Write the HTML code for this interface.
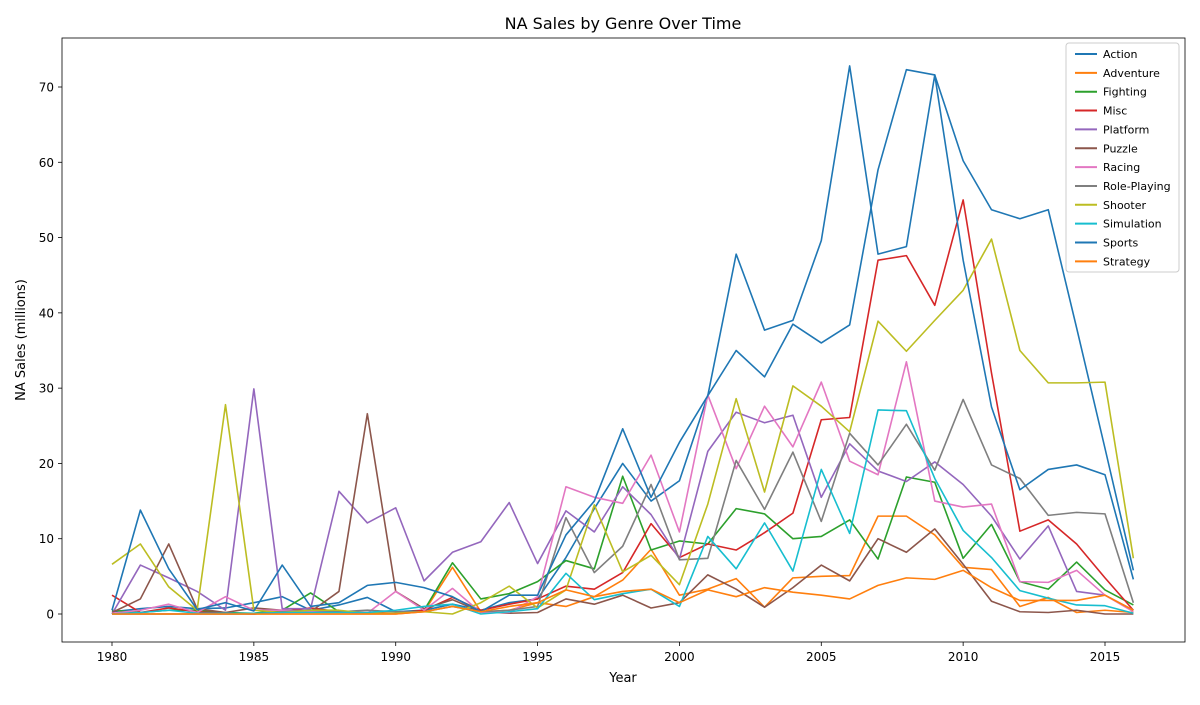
<!DOCTYPE html>
<html><head><meta charset="utf-8"><style>
body{margin:0;background:#fff;font-family:"Liberation Sans","DejaVu Sans",sans-serif}
svg text{font-family:"DejaVu Sans","Liberation Sans",sans-serif;fill:#000}
</style></head><body>
<svg id="chart" width="1200" height="700" xmlns="http://www.w3.org/2000/svg">
<rect width="1200" height="700" fill="#fff"/>
<text x="623" y="29" font-size="16" text-anchor="middle">NA Sales by Genre Over Time</text>
<g id="plot"></g>
<rect x="62" y="38" width="1123" height="604" fill="none" stroke="#000" stroke-width="0.8"/>
<g id="ticks"></g>
<text x="623" y="682" font-size="13" text-anchor="middle">Year</text>
<text transform="translate(25,340) rotate(-90)" font-size="13" text-anchor="middle">NA Sales (millions)</text>
<g id="legend"></g>
</svg>
<script>
const years = Array.from({length:37},(_,i)=>1980+i);
const genres = ["Action","Adventure","Fighting","Misc","Platform","Puzzle","Racing","Role-Playing","Shooter","Simulation","Sports","Strategy"];
const colors = ["#1f77b4","#ff7f0e","#2ca02c","#d62728","#9467bd","#8c564b","#e377c2","#7f7f7f","#bcbd22","#17becf","#1f77b4","#ff7f0e"];
const action = [0.3,0.7,1,0.7,0.8,1.5,2.3,0.5,1.2,2.2,0.3,0.5,1.3,0.5,1.5,2,7.5,14,20,15,17.7,29,35,31.5,38.5,36,38.4,59,72.3,71.6,60.2,53.7,52.5,53.7,38,22,5.8];
const adventure = [0,0,0,0,0,0,0,0,0,0,0,0.3,6.2,0.3,0.5,1.5,1,2.3,4.5,8.6,2.5,3.3,4.7,0.9,4.8,5,5.1,13,13,10.5,6.2,5.9,1,2.2,0.2,0.5,0.2];
const fighting = [0.5,0.2,0.5,0.5,0.2,0.1,0.5,2.8,0.3,0.1,0.1,0.5,6.8,2,2.7,4.3,7.1,6,18.3,8.5,9.7,9.3,14,13.3,10,10.3,12.5,7.3,18.2,17.5,7.4,11.9,4.3,3.3,6.9,3.2,1.2];
const misc = [2.5,0.2,0.8,0.3,0.1,0,0.3,0.8,0.3,0.2,0.1,0.5,2.2,0.5,1.3,2,3.7,3.3,5.5,12,7.5,9.3,8.5,10.8,13.4,25.8,26.1,47,47.6,41,55,32,11,12.5,9.3,4.8,0.5];
const platform = [0,6.5,4.8,3,0.5,29.9,0.7,0.7,16.3,12.1,14.1,4.4,8.2,9.6,14.8,6.7,13.7,10.9,16.9,13.2,7.3,21.6,26.8,25.4,26.4,15.5,22.6,19,17.6,20.2,17.2,13,7.3,11.7,3,2.5,0.5];
const puzzle = [0.2,2,9.3,0.7,0.2,0.8,0.5,0.3,3,26.6,3,0.7,1.9,0.3,0.1,0.2,2,1.3,2.5,0.8,1.5,5.2,3.3,0.9,3.5,6.5,4.4,10,8.2,11.3,6.6,1.7,0.3,0.2,0.5,0,0];
const racing = [0.1,0.5,1.3,0.2,2.3,0.5,0.5,0.3,0.3,0.1,3,0.5,3.4,0.2,0.2,2.3,16.9,15.5,14.7,21.1,10.9,29.1,19.3,27.6,22.2,30.8,20.3,18.5,33.5,15,14.2,14.6,4.3,4.2,5.8,2.5,0.3];
const rpg = [0,0,0,0,0,0,0.3,0.5,0.3,0.5,0.3,0.3,1,0.3,0.5,1,12.8,5.5,9,17.2,7.2,7.4,20.4,13.9,21.5,12.3,24,19.8,25.2,19.1,28.5,19.8,18,13.1,13.5,13.3,1.5];
const shooter = [6.6,9.3,3.6,0.5,27.8,0.5,0.2,0.5,0.5,0.1,0.1,0.3,0,1.5,3.7,0.8,3.2,14.5,5.6,7.8,3.9,14.6,28.6,16.2,30.3,27.6,24.2,38.9,34.9,39,43,49.8,35,30.7,30.7,30.8,7.4];
const simulation = [0,0.2,0.5,0.1,0.1,0.1,0.2,0.2,0.2,0.2,0.5,1,1.3,0,0.3,0.7,5.4,1.9,2.7,3.3,1,10.3,6,12.1,5.7,19.2,10.7,27.1,27,18,11.1,7.5,3.1,2.1,1.2,1.1,0.1];
const sports = [0.5,13.8,6,0.6,1.5,0.4,6.5,1,1.5,3.8,4.2,3.5,2.3,0.3,2.5,2.5,10.5,15,24.6,15.5,22.8,29,47.8,37.7,39,49.6,72.8,47.8,48.8,71.6,47,27.5,16.5,19.2,19.8,18.5,4.6];
const strategy = [0,0,0,0,0,0,0,0,0,0,0,0.3,1,0.3,1,1.5,3.2,2.3,3,3.3,1.5,3.2,2.3,3.5,2.9,2.5,2,3.8,4.8,4.6,5.8,3.5,1.8,1.8,1.8,2.5,0.5];
const xTicks = [1980,1985,1990,1995,2000,2005,2010,2015];
const yTicks = [0,10,20,30,40,50,60,70];
const series = [action,adventure,fighting,misc,platform,puzzle,racing,rpg,shooter,simulation,sports,strategy];

const NS="http://www.w3.org/2000/svg";
const x = v => 112 + (v-1980)*(1105-112)/35;
const y = v => 614 - v*(614-87)/70;
const plot=document.getElementById('plot'), ticks=document.getElementById('ticks'), legend=document.getElementById('legend');
function mk(tag,attrs,parent){const e=document.createElementNS(NS,tag);for(const k in attrs)e.setAttribute(k,attrs[k]);parent.appendChild(e);return e;}
series.forEach((s,i)=>{
  const p=mk('polyline',{points:s.map((v,j)=>x(years[j])+','+y(v)).join(' '),fill:'none',stroke:colors[i],'stroke-width':1.6,'stroke-linejoin':'round'},plot);
  
  
});
xTicks.forEach(t=>{
  const l=mk('line',{x1:x(t),x2:x(t),y1:642,y2:646,stroke:'#000','stroke-width':0.8},ticks);
  
  
  const tx=mk('text',{x:x(t),y:661,'font-size':12,'text-anchor':'middle'},ticks);tx.textContent=t;
  
  
});
yTicks.forEach(t=>{
  const l=mk('line',{x1:58,x2:62,y1:y(t),y2:y(t),stroke:'#000','stroke-width':0.8},ticks);
  
  
  const tx=mk('text',{x:54,y:y(t)+4.5,'font-size':12,'text-anchor':'end'},ticks);tx.textContent=t;
  
  
});
mk('rect',{x:1066,y:43,width:113,height:229,rx:3,fill:'#fff','fill-opacity':0.8,stroke:'#ccc','stroke-width':1},legend);
genres.forEach((g,i)=>{
  const yy=54+i*18.85;
  const ent=mk('g',{},legend);
  
  
  mk('line',{x1:1075,x2:1097,y1:yy,y2:yy,stroke:colors[i],'stroke-width':2},ent);
  const t=mk('text',{x:1103,y:yy+4,'font-size':11},ent);t.textContent=g;
});
</script>
</body></html>
